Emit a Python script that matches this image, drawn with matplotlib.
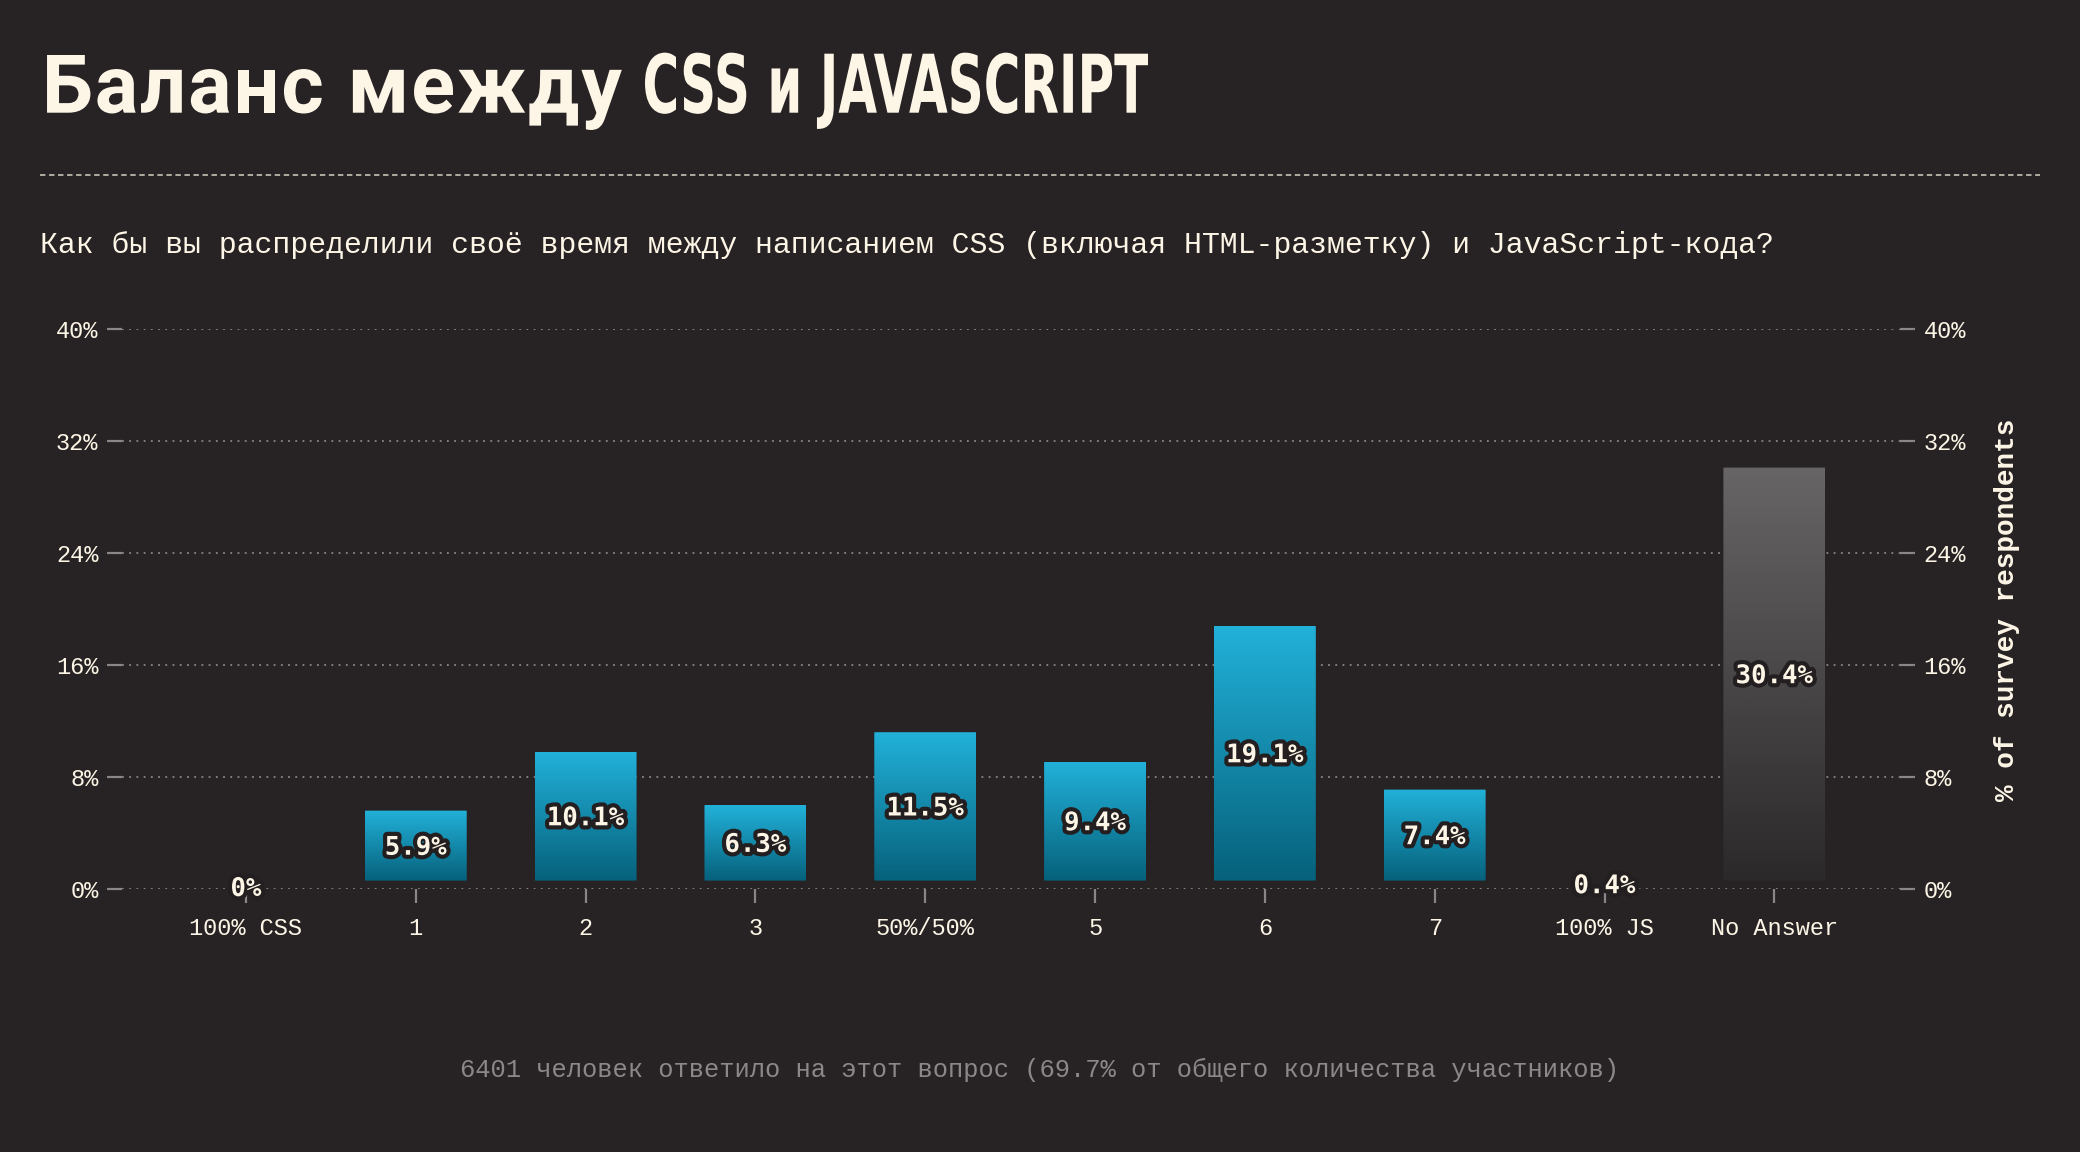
import numpy as np
from matplotlib import pyplot as plt
from matplotlib import patheffects as pe
from matplotlib.colors import LinearSegmentedColormap
from matplotlib.patches import FancyBboxPatch, PathPatch
from matplotlib.textpath import TextPath, TextToPath
from matplotlib.font_manager import FontProperties
from matplotlib.transforms import Affine2D
from matplotlib.ticker import FuncFormatter

categories = ["100% CSS", "1", "2", "3", "50%/50%", "5", "6", "7", "100% JS", "No Answer"]
values = [0.0, 5.9, 10.1, 6.3, 11.5, 9.4, 19.1, 7.4, 0.4, 30.4]
value_labels = ["0%", "5.9%", "10.1%", "6.3%", "11.5%", "9.4%", "19.1%", "7.4%", "0.4%", "30.4%"]
y_ticks = [0, 8, 16, 24, 32, 40]

title_a = "Баланс между"
title_b = "CSS и JAVASCRIPT"
subtitle = "Как бы вы распределили своё время между написанием CSS (включая HTML-разметку) и JavaScript-кода?"
footer = "6401 человек ответило на этот вопрос (69.7% от общего количества участников)"
ylabel_right = "% of survey respondents"

BG = "#272325"
CREAM = "#fdf5e6"
GRID = "#8a8586"
MONO = "Liberation Mono"

fig = plt.figure(figsize=(20.8, 11.52), dpi=100, facecolor=BG)
W, H = 2080, 1152

def fx(px):
    return px / W

def fy(py):
    return 1 - py / H

def fitted_text(s, x0, x1, baseline, cap, family="DejaVu Sans"):
    # draw text as a path, squeezed to fit a pixel box (pixels from top-left)
    prop = FontProperties(family=family, weight="bold")
    tp = TextPath((0, 0), s, size=100, prop=prop)
    ref = TextPath((0, 0), "H", size=100, prop=prop).get_extents()
    ext = tp.get_extents()
    sx = (x1 - x0) / ext.width
    sy = cap / ref.height
    tr = Affine2D().translate(-ext.x0, 0).scale(sx, sy).translate(x0, H - baseline)
    fig.add_artist(PathPatch(tr.transform_path(tp), facecolor=CREAM, edgecolor="none",
                             transform=None))

def spaced_text(s, x0, x1, baseline, cap, family="Roboto"):
    # natural glyph shapes, extra letter spacing to fill the box
    prop = FontProperties(family=family, weight="bold")
    ref = TextPath((0, 0), "H", size=100, prop=prop).get_extents()
    k = cap / ref.height
    t2p = TextToPath()
    adv = [t2p.get_text_width_height_descent(c, prop.copy(), ismath=False)[0] for c in s]
    # get_text_width_height_descent uses prop size in points; normalise to size 100
    size0 = prop.get_size_in_points()
    adv = [a * 100 / size0 * k for a in adv]
    total = sum(adv)
    sx = 1.0
    gap = (x1 - x0 - total) / (len(s) - 1)
    if gap < 0:
        sx = (x1 - x0) / total
        gap = 0
    xc = x0
    for c, a in zip(s, adv):
        if c.strip():
            tp = TextPath((0, 0), c, size=100, prop=prop)
            tr = Affine2D().scale(k * sx, k).translate(xc, H - baseline)
            fig.add_artist(PathPatch(tr.transform_path(tp), facecolor=CREAM,
                                     edgecolor="none", transform=None))
        xc += a * sx + gap

spaced_text(title_a, 42, 622, 112.7, 57.7)
fitted_text(title_b, 645, 1148, 112.7, 59)

# dashed separator
fig.add_artist(plt.Line2D([fx(40), fx(2040)], [fy(175), fy(175)], color="#bdb6ac",
                          lw=1.3, ls=(0, (3, 2)), transform=fig.transFigure))

fig.text(fx(40), fy(245), subtitle, fontsize=21.5, family=MONO, color=CREAM, va="center")
fig.text(0.5, fy(1070), footer, fontsize=18.4, family=MONO, color="#8c8788",
         ha="center", va="center")

ax = fig.add_axes([fx(122), fy(889), fx(1900 - 122), (889 - 329) / H])
ax.set_facecolor(BG)
x = np.arange(len(categories))
for s in ax.spines.values():
    s.set_visible(False)

ax.set_yticks(y_ticks)
ax.yaxis.grid(True, color=GRID, ls=(0, (1, 3)), lw=1.3)
ax.set_axisbelow(True)
ax.yaxis.set_major_formatter(FuncFormatter(lambda v, p: "%d%%" % v))
ax.tick_params(axis="y", which="both", left=True, right=True, labelleft=True, labelright=True,
               length=11, width=1.6, color=GRID, labelcolor=CREAM, labelsize=17, pad=6)
ax.set_xticks(x)
ax.set_xticklabels(categories)
ax.tick_params(axis="x", length=10, width=1.6, color=GRID, labelcolor=CREAM,
               labelsize=17, pad=10, direction="out")
for lab in ax.get_xticklabels() + ax.get_yticklabels():
    lab.set_family(MONO)

blue = LinearSegmentedColormap.from_list("b", ["#06617b", "#22b1d9"])
grey = LinearSegmentedColormap.from_list("g", ["#2c292b", "#676566"])
grad = np.linspace(0, 1, 256).reshape(-1, 1)
width = 0.6
for i, v in enumerate(values):
    top = v - 0.3
    bot = 0.6
    if top > bot:
        cmap = grey if categories[i] == "No Answer" else blue
        im = ax.imshow(grad, cmap=cmap, origin="lower", aspect="auto",
                       extent=[i - width / 2, i + width / 2, bot, top], zorder=2)
        clip = FancyBboxPatch((i - width / 2, bot), width, top - bot,
                              boxstyle="round,pad=0,rounding_size=0.015",
                              transform=ax.transData, facecolor="none", edgecolor="none")
        ax.add_patch(clip)
        im.set_clip_path(clip)
    ax.text(i, v / 2, value_labels[i], ha="center", va="center", fontsize=18.5,
            fontweight="bold", family="DejaVu Sans Mono", color=CREAM, zorder=5,
            path_effects=[pe.withStroke(linewidth=6, foreground="#231f20")])
ax.set_xlim(-0.73, 9.74)
ax.set_ylim(0, 40)

fig.text(fx(2007), fy(610), ylabel_right, rotation=90, fontsize=20, fontweight="bold",
         family=MONO, color=CREAM, ha="center", va="center")

fig.savefig("out.png", dpi=100, facecolor=BG)
